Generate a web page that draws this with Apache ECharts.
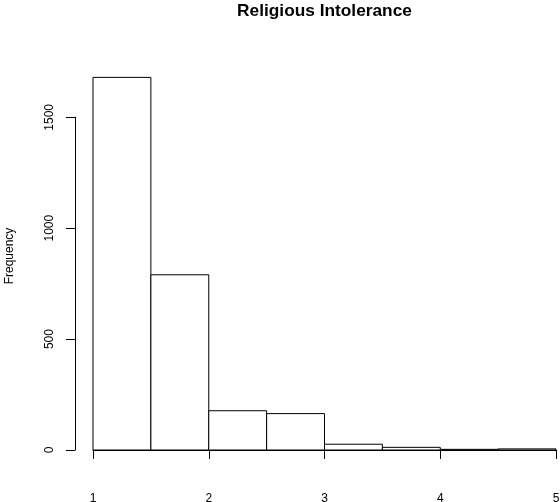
<!DOCTYPE html>
<html>
<head>
<meta charset="utf-8">
<script src="https://cdn.jsdelivr.net/npm/echarts@6/dist/echarts.min.js"></script>
<style>html,body{margin:0;padding:0;background:#fff;}#c{width:560px;height:502px;}</style>
</head>
<body>
<div id="c"></div>
<script>
var binStarts = [1, 1.5, 2, 2.5, 3, 3.5, 4, 4.5];
var binEnds = [1.5, 2, 2.5, 3, 3.5, 4, 4.5, 5];
var counts = [1680, 790, 177, 164, 26, 12, 3, 5];
var xTicks = [1, 2, 3, 4, 5];
var yTicks = [0, 500, 1000, 1500];
var titleText = 'Religious Intolerance';
var yName = 'Frequency';

var data = binStarts.map(function (s, i) { return [s, binEnds[i], counts[i]]; });
var FONT = '"Liberation Sans", Arial, sans-serif';

var chart = echarts.init(document.getElementById('c'), null, {renderer: 'canvas'});
chart.setOption({
  animation: false,
  backgroundColor: '#ffffff',
  title: {
    text: titleText,
    left: 319.5,
    top: -2,
    textAlign: 'center',
    textStyle: {fontFamily: FONT, fontSize: 17.3, fontWeight: 'bold', color: '#000'}
  },
  grid: {left: 93, right: 4, top: 117.3, bottom: 52, containLabel: false, outerBoundsMode: 'none'},
  xAxis: {
    type: 'value',
    min: xTicks[0], max: xTicks[xTicks.length - 1], interval: 1,
    offset: 15.5,
    axisLine: {show: true, lineStyle: {color: '#000', width: 1}},
    axisTick: {show: true, length: 9, lineStyle: {color: '#000'}},
    axisLabel: {show: true, margin: 27, color: '#000', fontFamily: FONT, fontSize: 12,
      formatter: function (v) { return xTicks.indexOf(v) >= 0 ? String(v) : ''; }},
    splitLine: {show: false}
  },
  yAxis: {
    type: 'value',
    min: yTicks[0], max: yTicks[yTicks.length - 1], interval: 500,
    offset: 18,
    axisLine: {show: true, lineStyle: {color: '#000', width: 1}},
    axisTick: {show: true, length: 9, lineStyle: {color: '#000'}},
    axisLabel: {show: true, rotate: 90, margin: 19, color: '#000', fontFamily: FONT, fontSize: 12,
      formatter: function (v) { return String(v); }},
    splitLine: {show: false}
  },
  graphic: [{
    type: 'text',
    x: 10, y: 256,
    rotation: Math.PI / 2,
    style: {text: yName, fill: '#000', font: '12px ' + FONT, align: 'center', verticalAlign: 'middle'}
  }],
  series: [{
    type: 'custom',
    clip: false,
    data: data,
    encode: {x: [0, 1], y: 2},
    renderItem: function (params, api) {
      var p0 = api.coord([api.value(0), 0]);
      var p1 = api.coord([api.value(1), api.value(2)]);
      return {
        type: 'rect',
        shape: {x: p0[0], y: p1[1], width: p1[0] - p0[0], height: p0[1] - p1[1]},
        style: {fill: '#fff', stroke: '#000', lineWidth: 1}
      };
    }
  }]
});
</script>
</body>
</html>
